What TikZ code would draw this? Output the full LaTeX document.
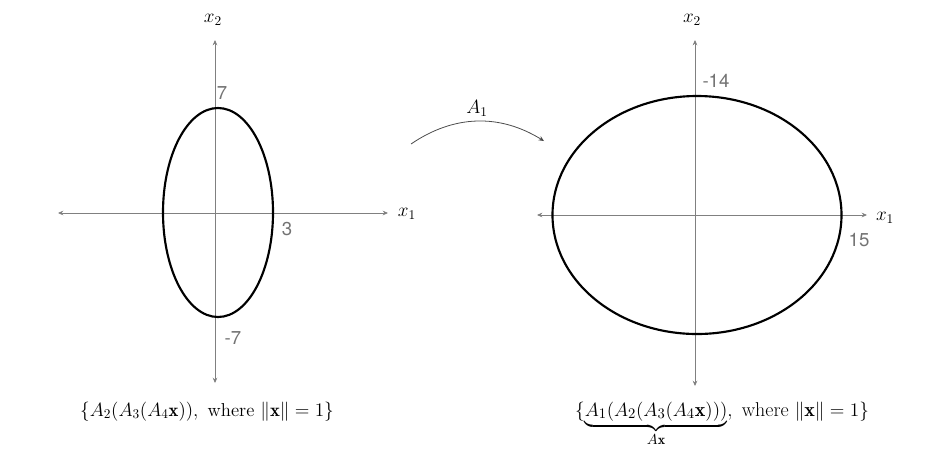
\documentclass[tikz,border=0pt]{standalone}
\usepackage{amsmath}
\usepackage{fontspec}
\newfontfamily\numfont{TeX Gyre Heros}
\usetikzlibrary{arrows.meta}

\begin{document}
\begin{tikzpicture}[x=0.75pt,y=-0.75pt,
    axis/.style={gray,line width=0.7pt,{Stealth[length=4pt,width=3.5pt]}-{Stealth[length=4pt,width=3.5pt]}},
    ell/.style={black,line width=1.6pt},
    num/.style={text=gray!90!black,font=\numfont\fontsize{14}{16}\selectfont},
    lab/.style={text=black,font=\fontsize{14}{17}\selectfont}]
  \useasboundingbox (0,0) rectangle (948,462);
  %%% left picture
  % the axes
  \draw[axis] (58,213) -- (388,213);
  \draw[axis] (215,383) -- (215,40);
  \node[lab] (xla) at (407,214) {$x_1$};
  \node[lab] (xlb) at (213,20) {$x_2$};
  % the ellipse
  \draw[ell] (218,212.5) ellipse (55 and 104.5);
  \node[num] (lt) at (222,93) {7};
  \node[num] (lr) at (287,229) {3};
  \node[num] (lb) at (233,338) {-7};
  \node[lab,anchor=base] (lset) at (207,416)
    {$\{A_2(A_3(A_4\mathbf{x})),\ \text{where } \|\mathbf{x}\|=1\}$};
  %%% right picture
  % the axes
  \draw[axis] (537,215) -- (867,215);
  \draw[axis] (695,386) -- (695,40);
  \node[lab] (xra) at (885,218) {$x_1$};
  \node[lab] (xrb) at (692,20) {$x_2$};
  % the ellipse
  \draw[ell] (697,215) ellipse (144.5 and 119);
  \node[num] (rt) at (716,81) {-14};
  \node[num] (rr) at (859,240) {15};
  \node[lab,anchor=base,font=\fontsize{15}{18}\selectfont] (rset) at (722,416)
    {$\{\underbrace{A_1(A_2(A_3(A_4\mathbf{x})))}_{A\mathbf{x}},\ \text{where } \|\mathbf{x}\|=1\}$};
  %%% the map
  \coordinate (from) at (411,144);
  \coordinate (to) at (544,141);
  \draw[gray!60!black,line width=0.6pt,-{Stealth[length=4pt,width=3.5pt]}]
    (from) to[bend left=33] node[lab,above] (map) {$A_1$} (to);
\end{tikzpicture}
\end{document}
